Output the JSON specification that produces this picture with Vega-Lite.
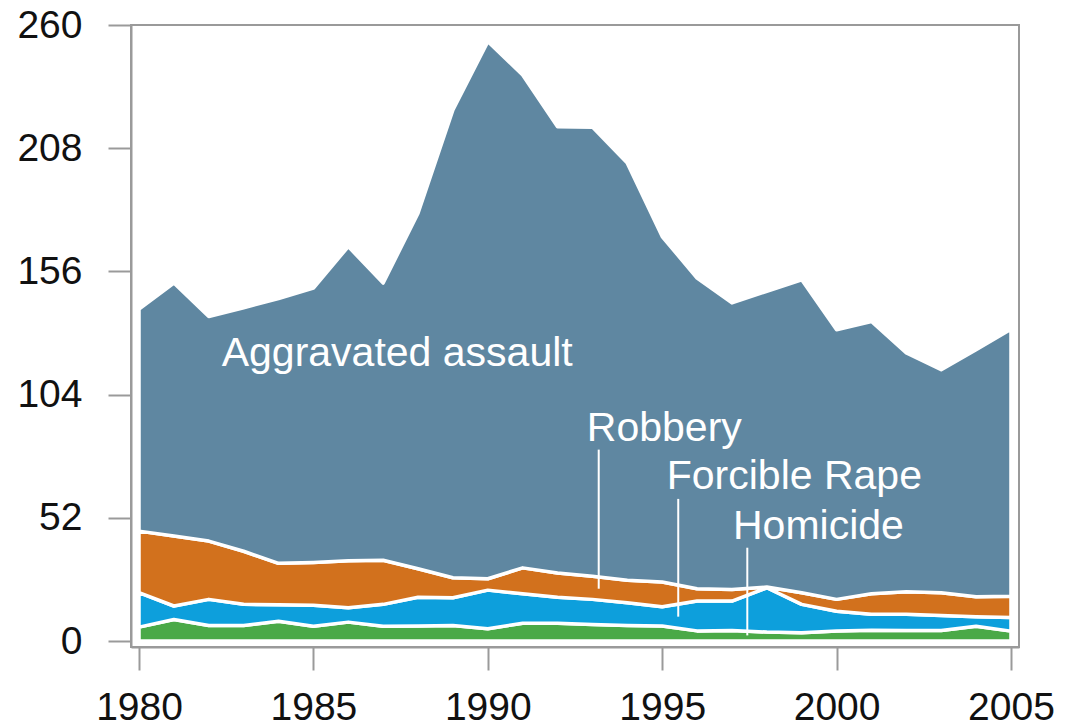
{
  "$schema": "https://vega.github.io/schema/vega-lite/v6.json",
  "autosize": {"type": "none"},
  "padding": {"left": 131, "top": 25, "right": 52, "bottom": 79},
  "width": 888,
  "height": 622,
  "background": "white",
  "config": {
    "view": {"stroke": "#9a9a9a", "strokeWidth": 2},
    "font": "Liberation Sans"
  },
  "datasets": {
    "rates": [
      {"year": 1980, "Homicide": 5.9, "Forcible Rape": 14.5, "Robbery": 26.0, "Aggravated assault": 93.7},
      {"year": 1981, "Homicide": 9.1, "Forcible Rape": 5.7, "Robbery": 29.5, "Aggravated assault": 106.8},
      {"year": 1982, "Homicide": 6.6, "Forcible Rape": 11.0, "Robbery": 24.6, "Aggravated assault": 94.8},
      {"year": 1983, "Homicide": 6.6, "Forcible Rape": 8.9, "Robbery": 22.4, "Aggravated assault": 102.8},
      {"year": 1984, "Homicide": 8.4, "Forcible Rape": 6.9, "Robbery": 17.5, "Aggravated assault": 111.7},
      {"year": 1985, "Homicide": 6.3, "Forcible Rape": 8.8, "Robbery": 18.1, "Aggravated assault": 115.8},
      {"year": 1986, "Homicide": 8.0, "Forcible Rape": 6.1, "Robbery": 19.8, "Aggravated assault": 132.6},
      {"year": 1987, "Homicide": 6.3, "Forcible Rape": 9.2, "Robbery": 18.6, "Aggravated assault": 117.0},
      {"year": 1988, "Homicide": 6.4, "Forcible Rape": 12.1, "Robbery": 12.0, "Aggravated assault": 150.1},
      {"year": 1989, "Homicide": 6.6, "Forcible Rape": 11.7, "Robbery": 8.4, "Aggravated assault": 197.5},
      {"year": 1990, "Homicide": 5.2, "Forcible Rape": 16.3, "Robbery": 4.8, "Aggravated assault": 226.7},
      {"year": 1991, "Homicide": 7.5, "Forcible Rape": 12.5, "Robbery": 10.9, "Aggravated assault": 208.0},
      {"year": 1992, "Homicide": 7.5, "Forcible Rape": 11.0, "Robbery": 10.2, "Aggravated assault": 188.4},
      {"year": 1993, "Homicide": 7.0, "Forcible Rape": 10.6, "Robbery": 9.8, "Aggravated assault": 189.5},
      {"year": 1994, "Homicide": 6.6, "Forcible Rape": 9.6, "Robbery": 9.5, "Aggravated assault": 176.0},
      {"year": 1995, "Homicide": 6.4, "Forcible Rape": 8.1, "Robbery": 10.4, "Aggravated assault": 145.8},
      {"year": 1996, "Homicide": 4.3, "Forcible Rape": 12.6, "Robbery": 5.2, "Aggravated assault": 131.1},
      {"year": 1997, "Homicide": 4.5, "Forcible Rape": 12.4, "Robbery": 4.9, "Aggravated assault": 120.9},
      {"year": 1998, "Homicide": 3.8, "Forcible Rape": 18.7, "Robbery": 0.3, "Aggravated assault": 124.8},
      {"year": 1999, "Homicide": 3.5, "Forcible Rape": 12.0, "Robbery": 4.9, "Aggravated assault": 132.1},
      {"year": 2000, "Homicide": 4.3, "Forcible Rape": 8.3, "Robbery": 5.0, "Aggravated assault": 113.8},
      {"year": 2001, "Homicide": 4.6, "Forcible Rape": 6.7, "Robbery": 8.7, "Aggravated assault": 114.9},
      {"year": 2002, "Homicide": 4.5, "Forcible Rape": 6.8, "Robbery": 9.5, "Aggravated assault": 100.8},
      {"year": 2003, "Homicide": 4.5, "Forcible Rape": 6.3, "Robbery": 9.6, "Aggravated assault": 94.1},
      {"year": 2004, "Homicide": 6.3, "Forcible Rape": 4.0, "Robbery": 8.4, "Aggravated assault": 104.3},
      {"year": 2005, "Homicide": 4.2, "Forcible Rape": 5.7, "Robbery": 9.0, "Aggravated assault": 112.7}
    ],
    "stackOrder": [
      {"crime": "Homicide", "k": 1},
      {"crime": "Forcible Rape", "k": 2},
      {"crime": "Robbery", "k": 3},
      {"crime": "Aggravated assault", "k": 4}
    ],
    "labels": [
      {"label": "Aggravated assault", "year": 1982.37, "value": 115.9},
      {"label": "Robbery", "year": 1992.84, "value": 84.3},
      {"label": "Forcible Rape", "year": 1995.13, "value": 64.0},
      {"label": "Homicide", "year": 1997.03, "value": 42.9}
    ],
    "leaders": [
      {"year": 1993.18, "from": 80.8, "to": 22.1},
      {"year": 1995.46, "from": 60.0, "to": 10.3},
      {"year": 1997.44, "from": 39.4, "to": 2.4}
    ]
  },
  "layer": [
    {
      "data": {"name": "rates"},
      "transform": [
        {"fold": ["Homicide", "Forcible Rape", "Robbery", "Aggravated assault"], "as": ["crime", "rate"]},
        {"lookup": "crime", "from": {"data": {"name": "stackOrder"}, "key": "crime", "fields": ["k"]}}
      ],
      "mark": {"type": "area", "stroke": "white", "strokeWidth": 3.5, "opacity": 1, "strokeJoin": "round"},
      "encoding": {
        "x": {
          "field": "year", "type": "quantitative",
          "scale": {"domain": [1979.77, 2005.23], "nice": false, "zero": false},
          "axis": {
            "title": null, "grid": false, "values": [1980, 1985, 1990, 1995, 2000, 2005], "format": "d",
            "domainColor": "#9a9a9a", "domainWidth": 2, "tickColor": "#9a9a9a", "tickWidth": 2, "tickSize": 23,
            "labelFontSize": 39, "labelColor": "#111111", "labelPadding": 18, "labelFlush": false
          }
        },
        "y": {
          "field": "rate", "type": "quantitative", "stack": "zero",
          "scale": {"domain": [-2.5, 260], "nice": false, "zero": false},
          "axis": {
            "title": null, "grid": false, "values": [0, 52, 104, 156, 208, 260],
            "domainColor": "#9a9a9a", "domainWidth": 2, "tickColor": "#9a9a9a", "tickWidth": 2, "tickSize": 23,
            "labelFontSize": 39, "labelColor": "#111111", "labelPadding": 26
          }
        },
        "color": {
          "field": "crime", "type": "nominal",
          "scale": {
            "domain": ["Homicide", "Forcible Rape", "Robbery", "Aggravated assault"],
            "range": ["#4aa947", "#0d9fdc", "#d2711d", "#5f87a1"]
          },
          "legend": null
        },
        "order": {"field": "k", "type": "quantitative"}
      }
    },
    {
      "data": {"name": "leaders"},
      "mark": {"type": "rule", "color": "white", "strokeWidth": 2},
      "encoding": {
        "x": {"field": "year", "type": "quantitative", "axis": {"title": null}},
        "y": {"field": "from", "type": "quantitative", "axis": {"title": null}},
        "y2": {"field": "to"}
      }
    },
    {
      "data": {"name": "labels"},
      "mark": {"type": "text", "color": "white", "fontSize": 41, "align": "left", "baseline": "alphabetic"},
      "encoding": {
        "x": {"field": "year", "type": "quantitative", "axis": {"title": null}},
        "y": {"field": "value", "type": "quantitative", "axis": {"title": null}},
        "text": {"field": "label"}
      }
    }
  ]
}
